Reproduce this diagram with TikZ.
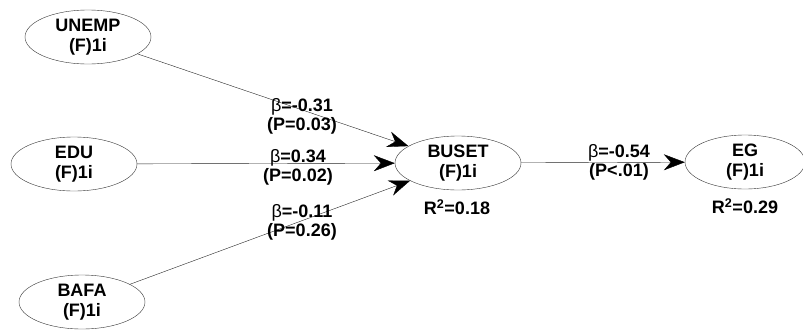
\documentclass[tikz,border=0pt]{standalone}
\usepackage{fontspec}
\setmainfont{Liberation Sans}
\usetikzlibrary{shapes.geometric}
\usetikzlibrary{arrows.meta}

\begin{document}
\begin{tikzpicture}[x=1pt,y=-1pt,
  latent/.style={draw=black!80,thin,ellipse,minimum width=126pt,minimum height=54pt,inner sep=0pt,align=center,font=\fontsize{18}{20}\selectfont\bfseries},
  coef/.style={inner sep=0pt,align=center,font=\fontsize{18}{19}\selectfont\bfseries},
  path/.style={draw=black!85,thin,-{Stealth[length=21pt,width=16pt,inset=7pt,black]}}]
\useasboundingbox (0,0) rectangle (803,330);
\node[latent] (unemp) at (88,37) {UNEMP\\(F)1i};
\node[latent] (edu) at (74,164) {EDU\\(F)1i};
\node[latent] (bafa) at (82,302) {BAFA\\(F)1i};
\node[latent] (buset) at (458,163) {BUSET\\(F)1i};
\node[latent,minimum width=120pt] (eg) at (745,162) {EG\\(F)1i};
\draw[path] (unemp) -- (buset);
\draw[path] (edu) -- (buset);
\draw[path] (bafa) -- (buset);
\draw[path] (buset) -- (eg);
\node[coef] (c1) at (302,116) {{\mdseries β}=-0.31\\(P=0.03)};
\node[coef] (c2) at (298,167) {{\mdseries β}=0.34\\(P=0.02)};
\node[coef] (c3) at (302,222) {{\mdseries β}=-0.11\\(P=0.26)};
\node[coef] (c4) at (619,162) {{\mdseries β}=-0.54\\(P<.01)};
\node[coef] (r1) at (457,207) {R\textsuperscript{2}=0.18};
\node[coef] (r2) at (745,206) {R\textsuperscript{2}=0.29};
\end{tikzpicture}
\end{document}
